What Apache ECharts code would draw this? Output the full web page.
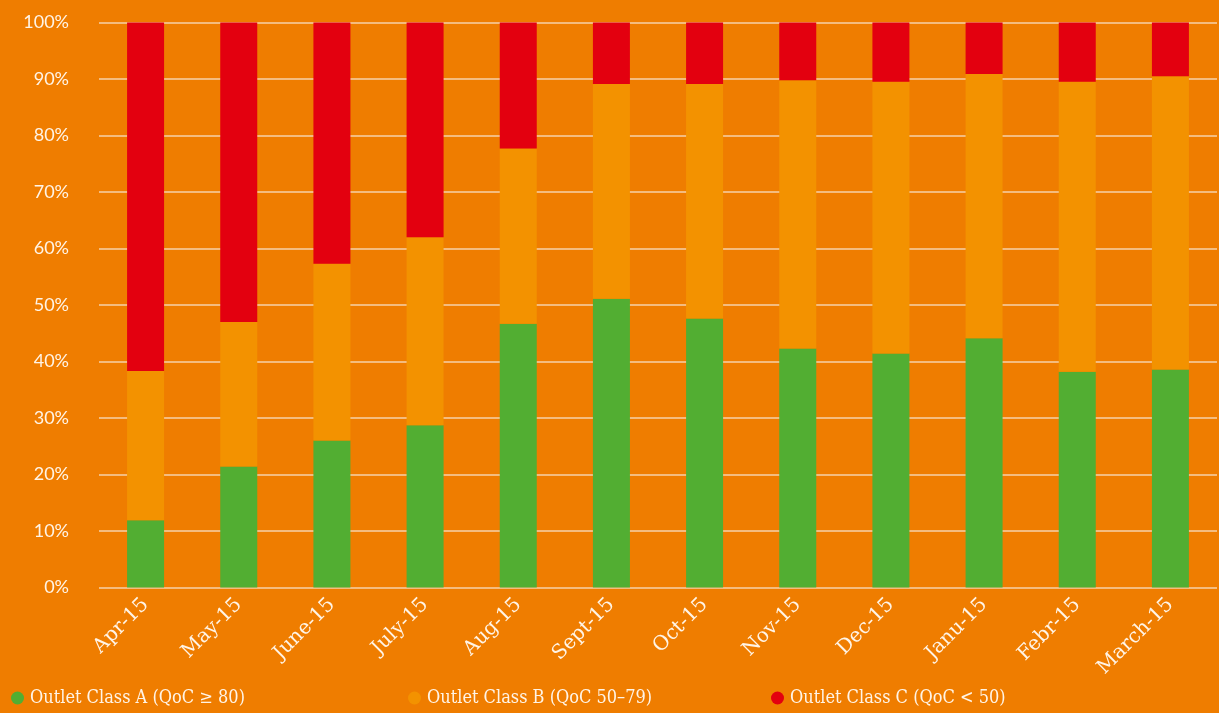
<!DOCTYPE html>
<html>
<head>
	<meta charset="UTF-8">
	<title>Outlet Class</title>
	<script src="https://cdn.jsdelivr.net/npm/echarts@6/dist/echarts.min.js"></script>
	<style>
		html, body { margin: 0; padding: 0; background: #EF7D00; }
		#main { width: 1219px; height: 713px; }
	</style>
</head>
<body>
<div id="main"></div>
<script type="text/javascript">
	var months = ['Apr-15', 'May-15', 'June-15', 'July-15', 'Aug-15', 'Sept-15', 'Oct-15', 'Nov-15', 'Dec-15', 'Janu-15', 'Febr-15', 'March-15'];
	var classA = [11.9, 21.4, 26.0, 28.7, 46.7, 51.1, 47.6, 42.3, 41.4, 44.1, 38.2, 38.6];
	var classB = [26.4, 25.6, 31.3, 33.3, 31.0, 38.0, 41.5, 47.5, 48.1, 46.8, 51.3, 51.9];
	var classC = [61.7, 53.0, 42.7, 38.0, 22.3, 10.9, 10.9, 10.2, 10.5, 9.1, 10.5, 9.5];
	var seriesNames = ['Outlet Class A (QoC ≥ 80)', 'Outlet Class B (QoC 50–79)', 'Outlet Class C (QoC < 50)'];

	var myChart = echarts.init(document.getElementById('main'));
	var legendText = { color: '#FFF4E6', fontFamily: 'DejaVu Serif Condensed, DejaVu Serif', fontSize: 18, padding: [0, 0, 0, 1] };
	function makeLegend(name, left) {
		return {
			data: [name],
			left: left,
			bottom: 1,
			icon: 'circle',
			itemWidth: 13,
			itemHeight: 13,
			itemGap: 0,
			textStyle: legendText
		};
	}
	function bar(name, data, color) {
		return {
			name: name,
			type: 'bar',
			stack: 'total',
			barWidth: 37,
			itemStyle: { color: color },
			data: data
		};
	}

	var option = {
		backgroundColor: '#EF7D00',
		animation: false,
		grid: { left: 99, right: 2, top: 22.5, bottom: 125.5, containLabel: false },
		legend: [
			makeLegend(seriesNames[0], 6),
			makeLegend(seriesNames[1], 403),
			makeLegend(seriesNames[2], 766)
		],
		xAxis: {
			type: 'category',
			data: months,
			axisLine: { show: false },
			axisTick: { show: false },
			axisLabel: {
				rotate: 45,
				margin: 14,
				color: '#FFF4E6',
				fontFamily: 'DejaVu Serif',
				fontSize: 20,
				interval: 0
			}
		},
		yAxis: {
			type: 'value',
			min: 0,
			max: 100,
			interval: 10,
			axisLine: { show: false },
			axisTick: { show: false },
			axisLabel: {
				formatter: '{value}%',
				margin: 30,
				color: '#FFF4E6',
				fontFamily: 'Lato',
				fontSize: 18
			},
			splitLine: { lineStyle: { color: '#F6D2AA', width: 1.5 } }
		},
		series: [
			bar(seriesNames[0], classA, '#52AE32'),
			bar(seriesNames[1], classB, '#F39200'),
			bar(seriesNames[2], classC, '#E3000F')
		]
	};
	myChart.setOption(option);
</script>
</body>
</html>
